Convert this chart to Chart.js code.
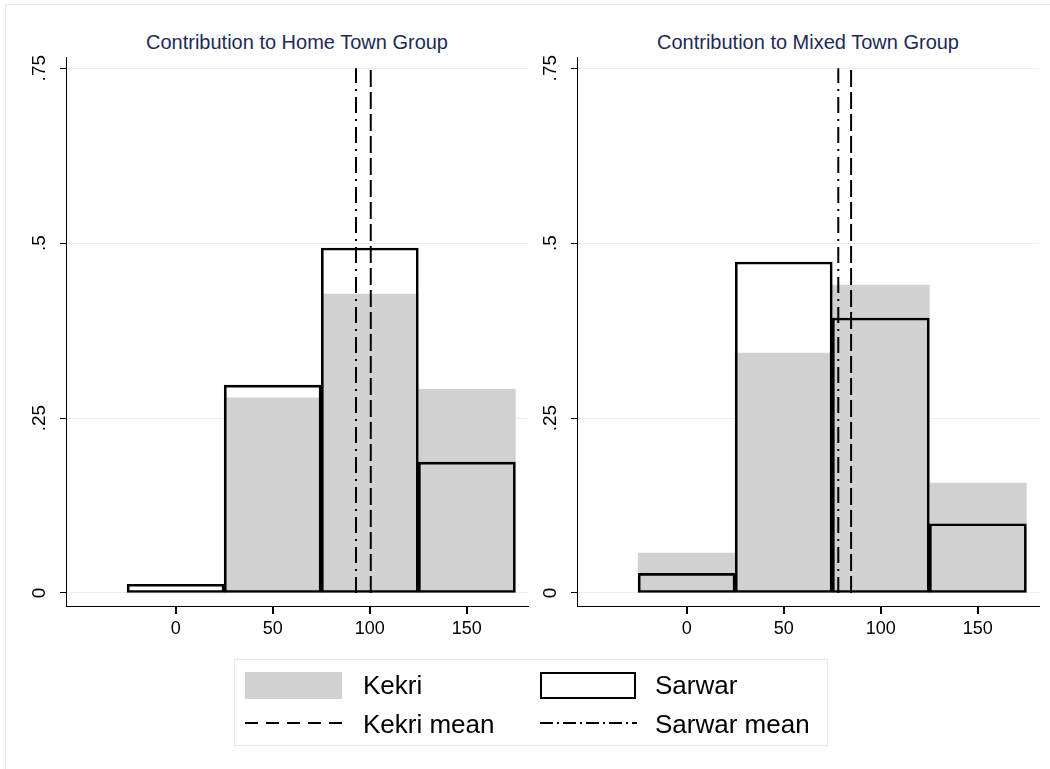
<!DOCTYPE html>
<html><head><meta charset="utf-8">
<script src="https://cdn.jsdelivr.net/npm/chart.js@4.4.1/dist/chart.umd.min.js"></script>
<style>
body{margin:0;background:#fff;width:1050px;height:769px;overflow:hidden;position:relative;font-family:"Liberation Sans",Arial,sans-serif;}
#frame{position:absolute;left:5px;top:4px;width:1100px;height:900px;border:1px solid #e3eaee;}
.title{position:absolute;top:31px;font-size:20px;color:#1c2a57;text-align:center;white-space:nowrap;}
.cv{position:absolute;top:0;}
#legend{position:absolute;left:234px;top:659px;width:594px;height:87px;border:1px solid #e3eaee;box-sizing:border-box;}
.lt{position:absolute;font-size:26px;color:#000;line-height:30px;white-space:nowrap;}
</style></head>
<body>
<div id="frame"></div>
<div class="title" id="t0"></div>
<div class="title" id="t1"></div>
<canvas class="cv" id="c0" width="545" height="660" style="left:0px;width:545px;height:660px"></canvas>
<canvas class="cv" id="c1" width="540" height="660" style="left:510px;width:540px;height:660px"></canvas>
<div id="legend">
  <div style="position:absolute;left:10px;top:12px;width:97px;height:27px;background:#d1d1d1"></div>
  <div class="lt" id="l0" style="left:128px;top:10px"></div>
  <div style="position:absolute;left:305px;top:12px;width:96px;height:27px;border:2px solid #000;box-sizing:border-box"></div>
  <div class="lt" id="l1" style="left:420px;top:10px"></div>
  <svg style="position:absolute;left:0;top:50px" width="594" height="30">
    <line x1="10" y1="13" x2="108" y2="13" stroke="#000" stroke-width="2" stroke-dasharray="13,8"/>
    <line x1="305" y1="13" x2="402" y2="13" stroke="#000" stroke-width="2" stroke-dasharray="13,4,2,4"/>
  </svg>
  <div class="lt" id="l2" style="left:128px;top:49px"></div>
  <div class="lt" id="l3" style="left:420px;top:49px"></div>
</div>
<script>
// ---- data ----
const panelTitles = ["Contribution to Home Town Group", "Contribution to Mixed Town Group"];
const seriesNames = ["Kekri", "Sarwar", "Kekri mean", "Sarwar mean"];
const binCenters = [0, 50, 100, 150];
const homeKekri   = [0.000, 0.279, 0.427, 0.291];
const homeSarwar  = [0.0125, 0.297, 0.493, 0.187];
const mixedKekri  = [0.057, 0.343, 0.440, 0.157];
const mixedSarwar = [0.028, 0.473, 0.393, 0.099];
const kekriMeans  = [100.5, 84.7];
const sarwarMeans = [92.9, 78.1];
const xTicks = [0, 50, 100, 150];
const yTicks = [0, 0.25, 0.5, 0.75];
const yTickLabels = ["0", ".25", ".5", ".75"];

// ---- text ----
document.getElementById('l0').textContent = seriesNames[0];
document.getElementById('l1').textContent = seriesNames[1];
document.getElementById('l2').textContent = seriesNames[2];
document.getElementById('l3').textContent = seriesNames[3];

const FONT = "'Liberation Sans', Arial, sans-serif";

function makePanel(id, kekri, sarwar, kMean, sMean, axisW, rightPad, canvasLeft, titleEl, title) {
  const axisPlugin = {
    id: 'axisExtras',
    afterDraw(chart) {
      const ys = chart.scales.y, xs = chart.scales.x, ctx = chart.ctx, ca = chart.chartArea;
      ctx.save();
      ctx.setLineDash([]);
      ctx.globalAlpha = 1;
      // x tick marks
      ctx.fillStyle = '#000000';
      xTicks.forEach(v => {
        const px = Math.round(xs.getPixelForValue(v));
        ctx.fillRect(px - 1, ca.bottom, 2, 8);
      });
      // rotated y labels
      ctx.font = "19px " + FONT;
      ctx.textAlign = 'center';
      ctx.textBaseline = 'middle';
      yTicks.forEach((v, i) => {
        const py = ys.getPixelForValue(v);
        ctx.save();
        ctx.translate(ca.left - 26, py);
        ctx.rotate(-Math.PI / 2);
        ctx.fillText(yTickLabels[i], 0, 0);
        ctx.restore();
      });
      ctx.restore();
    }
  };
  const chart = new Chart(document.getElementById(id), {
    type: 'bar',
    data: {
      datasets: [
        {label: seriesNames[2], type: 'line', data: [{x: kMean, y: 0}, {x: kMean, y: 0.75}],
         borderColor: '#000', borderWidth: 2, borderDash: [17, 5], pointRadius: 0, order: -2},
        {label: seriesNames[3], type: 'line', data: [{x: sMean, y: 0}, {x: sMean, y: 0.75}],
         borderColor: '#000', borderWidth: 2, borderDash: [16, 6, 2, 6], pointRadius: 0, order: -1},
        {label: seriesNames[1], data: binCenters.map((c, i) => ({x: c, y: sarwar[i]})),
         backgroundColor: 'rgba(0,0,0,0)', borderColor: '#000', borderWidth: 2, borderSkipped: false,
         barPercentage: 1, categoryPercentage: 1, grouped: false, order: 0},
        {label: seriesNames[0], data: binCenters.map((c, i) => ({x: c, y: kekri[i]})),
         backgroundColor: '#d1d1d1', borderWidth: 0,
         barPercentage: 1, categoryPercentage: 1, grouped: false, order: 1}
      ]
    },
    options: {
      responsive: false, animation: false, devicePixelRatio: 1,
      layout: {padding: {left: 0, top: 57, right: rightPad, bottom: 0}},
      plugins: {legend: {display: false}, tooltip: {enabled: false}},
      scales: {
        x: {type: 'linear', min: -56.5, max: 181.5, offset: false,
            afterBuildTicks: s => { s.ticks = xTicks.map(v => ({value: v})); },
            afterFit: s => { s.height = 54; },
            grid: {drawOnChartArea: false, offset: false, color: '#000', tickLength: 8},
            border: {color: '#000', width: 1},
            ticks: {color: '#000', font: {size: 18, family: FONT}, padding: 4, maxRotation: 0,
                    callback: v => String(v)}},
        y: {type: 'linear', min: -0.0186, max: 0.766,
            afterBuildTicks: s => { s.ticks = yTicks.map(v => ({value: v})); },
            afterFit: s => { s.width = axisW; },
            grid: {color: '#e6eef0', tickColor: '#000', tickLength: 6, lineWidth: 1},
            border: {color: '#000', width: 1},
            ticks: {display: false}}
      }
    },
    plugins: [axisPlugin]
  });
  const ca = chart.chartArea;
  const tEl = document.getElementById(titleEl);
  tEl.textContent = title;
  tEl.style.left = (canvasLeft + ca.left) + 'px';
  tEl.style.width = (ca.right - ca.left) + 'px';
  return chart;
}

makePanel('c0', homeKekri, homeSarwar, kekriMeans[0], sarwarMeans[0], 66, 17, 0, 't0', panelTitles[0]);
makePanel('c1', mixedKekri, mixedSarwar, kekriMeans[1], sarwarMeans[1], 67, 11, 510, 't1', panelTitles[1]);
</script>
</body></html>
